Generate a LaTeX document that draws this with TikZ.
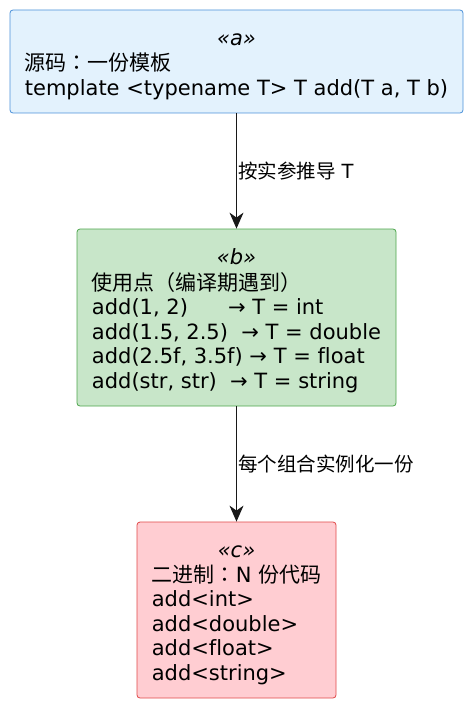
\documentclass[tikz,border=0pt]{standalone}
\usepackage{fontspec}
\setmainfont{DejaVu Sans}[Ligatures=NoCommon]
\newfontfamily\cjk{Noto Sans CJK SC}
\newfontfamily\cjkpunct{Noto Sans CJK TC}
\usetikzlibrary{arrows.meta}
\definecolor{srcfill}{HTML}{E3F2FD}
\definecolor{srcline}{HTML}{4A90D9}
\definecolor{usefill}{HTML}{C8E6C9}
\definecolor{useline}{HTML}{4CA54C}
\definecolor{binfill}{HTML}{FFCDD2}
\definecolor{binline}{HTML}{E04848}
\definecolor{flowline}{HTML}{181818}
\newcommand{\stereo}[1]{\multicolumn{1}{c}{\itshape «#1»}}
\newcommand{\boxtext}[1]{\raisebox{-4pt}[\height][\depth]{\begin{tabular}{@{}l@{}}#1\end{tabular}}}
\newcommand{\fwcolon}{{\cjkpunct ：}}
\tikzset{
  box/.style={draw, rounded corners=3pt, line width=0.8pt, inner sep=0pt,
    font=\fontsize{21}{24.5}\selectfont},
  flow/.style={-{Stealth[length=16pt,width=14pt,inset=5pt]}, draw=flowline,
    line width=1pt},
  flowlabel/.style={anchor=west, xshift=1pt, inner sep=0pt,
    font=\fontsize{19.5}{22}\selectfont}
}
\begin{document}
\begin{tikzpicture}[x=1pt,y=-1pt]
      \useasboundingbox (0,0) rectangle (471,706);
      \node[box, fill=srcfill, draw=srcline, minimum width=453pt, minimum height=103pt]
        (a) at (236.5,61.5) {\boxtext{
          \stereo{a}\\
          {\cjk 源码\fwcolon 一份模板}\\
          template <typename T> T add(T a, T b)}};
      \node[box, fill=usefill, draw=useline, minimum width=319pt, minimum height=177pt]
        (b) at (236.5,317.5) {\boxtext{
          \stereo{b}\\
          {\cjk 使用点（编译期遇到）}\\
          add(1, 2)~~~~~~→ T = int\\
          add(1.5, 2.5)~~→ T = double\\
          add(2.5f, 3.5f)~→ T = float\\
          add(str, str)~~→ T = string}};
      \node[box, fill=binfill, draw=binline, minimum width=199pt, minimum height=176pt]
        (c) at (236.5,610) {\boxtext{
          \stereo{c}\\
          {\cjk 二进制\fwcolon}N {\cjk 份代码}\\
          add<int>\\
          add<double>\\
          add<float>\\
          add<string>}};
      \begin{scope}[flow]
        \draw (a) to node[flowlabel] {{\cjk 按实参推导} T} (b);
        \draw (b) to node[flowlabel] {{\cjk 每个组合实例化一份}} (c);
      \end{scope}
    \end{tikzpicture}
\end{document}
